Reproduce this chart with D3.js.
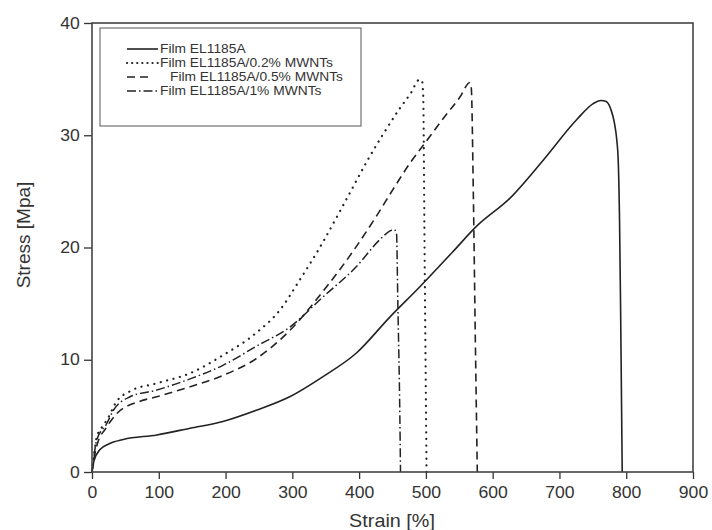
<!DOCTYPE html>
<html>
<head>
<meta charset="utf-8">
<script src="https://cdn.jsdelivr.net/npm/d3@7"></script>
<style>
  body { margin: 0; background: #fff; }
  svg { display: block; font-family: "Liberation Sans", Arial, sans-serif; }
</style>
</head>
<body>
<div id="chart"></div>
<script>
// stress-strain data, [strain %, stress MPa]
const film = [[0,0],[3,1.0],[12,2.0],[25,2.5],[47,2.9],[97,3.3],[147,3.9],[196,4.5],[246,5.5],[296,6.7],[346,8.5],[396,10.6],[446,13.8],[491,16.5],[540,19.6],[576,21.9],[626,24.4],[676,27.8],[726,31.4],[750,32.8],[762,33.1],[770,33.0],[777,32.3],[782,31.2],[786,29.5],[788,27.8],[790,22.4],[791.5,15],[793,6],[794,0]]
const mwnt02 = [[0,0],[3,1.5],[7,3.1],[15,4.0],[22,4.6],[37,6.3],[57,7.2],[97,7.9],[147,8.8],[196,10.4],[246,12.4],[281,14.4],[311,17.1],[346,20.5],[371,23.2],[391,25.4],[411,27.6],[436,30.1],[461,32.4],[479,33.9],[489,34.9],[494,34.9],[496,33.5],[498,20],[501,0]]
const mwnt05 = [[0,0],[3,1.2],[7,2.3],[22,4.0],[37,5.2],[72,6.3],[97,6.7],[147,7.6],[196,8.6],[246,10.1],[296,12.6],[346,16.1],[396,20.1],[426,22.8],[451,25.2],[476,27.5],[501,29.5],[526,31.5],[551,33.4],[566,34.7],[568,34.2],[571,25],[574,12],[577,0]]
const mwnt1 = [[0,0],[3,1.4],[7,2.85],[22,4.3],[32,5.5],[57,6.7],[97,7.3],[147,8.3],[196,9.5],[246,11.2],[296,12.9],[346,15.6],[396,18.3],[431,20.7],[447,21.5],[452,21.6],[456,21.3],[458,15],[461,5],[462,0]]

const seriesNames = ["Film EL1185A", "Film EL1185A/0.2% MWNTs", "Film EL1185A/0.5% MWNTs", "Film EL1185A/1% MWNTs"]
const xTicks = [0,100,200,300,400,500,600,700,800,900]
const yTicks = [0,10,20,30,40]

const width = 712, height = 530
const margin = {left: 92, right: 19, top: 23, bottom: 58}

const svg = d3.select("#chart").append("svg")
    .attr("width", width).attr("height", height)

const x = d3.scaleLinear().domain([0,900]).range([margin.left, width - margin.right])
const y = d3.scaleLinear().domain([0,40]).range([height - margin.bottom, margin.top])

const ink = "#222"
const styles = [
    {dash: null, w: 1.6, cap: "butt"},
    {dash: "0.1,6.5", w: 2.2, cap: "round"},
    {dash: "8,5", w: 1.6, cap: "butt"},
    {dash: "9,3,1.5,3", w: 1.5, cap: "butt"}
]

const line = d3.line()
    .x(d => x(d[0]))
    .y(d => y(d[1]))
    .curve(d3.curveMonotoneX)

const allSeries = [film, mwnt02, mwnt05, mwnt1]

svg.append("g").selectAll("path")
    .data(allSeries)
    .join("path")
    .attr("d", line)
    .attr("fill", "none")
    .attr("stroke", ink)
    .attr("stroke-width", (d,i) => styles[i].w)
    .attr("stroke-dasharray", (d,i) => styles[i].dash)
    .attr("stroke-linecap", (d,i) => styles[i].cap)

// axes
const xAxis = svg.append("g")
    .attr("transform", `translate(0,${y(0)})`)
    .call(d3.axisBottom(x).tickValues(xTicks).tickSize(7).tickPadding(8).tickSizeOuter(0))
const yAxis = svg.append("g")
    .attr("transform", `translate(${x(0)},0)`)
    .call(d3.axisLeft(y).tickValues(yTicks).tickSize(8).tickPadding(3).tickSizeOuter(0))

for (const ax of [xAxis, yAxis]) {
    ax.select(".domain").remove()
    ax.selectAll("line").attr("stroke", "#333").attr("stroke-width", 1.3)
    ax.selectAll("text")
        .attr("fill", "#333")
        .style("font-size", "16px")
        .style("font-family", "'Liberation Sans', Arial, sans-serif")
        .attr("transform", "scale(1.1,1)")
}

// frame
svg.append("rect")
    .attr("x", x(0)).attr("y", y(40))
    .attr("width", x(900) - x(0)).attr("height", y(0) - y(40))
    .attr("fill", "none").attr("stroke", "#444").attr("stroke-width", 1.6)

// axis titles
svg.append("text")
    .attr("transform", `translate(392,527) scale(1.1,1)`)
    .attr("text-anchor", "middle")
    .style("font-size", "18px")
    .attr("fill", "#333")
    .text("Strain [%]")

svg.append("text")
    .attr("transform", "translate(30,235) rotate(-90)")
    .attr("text-anchor", "middle")
    .style("font-size", "19px")
    .attr("fill", "#333")
    .text("Stress [Mpa]")

// legend
const legend = svg.append("g")
legend.append("rect")
    .attr("x", 100).attr("y", 28).attr("width", 261).attr("height", 98)
    .attr("fill", "#fff").attr("stroke", "#555").attr("stroke-width", 1)

const rows = legend.selectAll("g.row")
    .data(seriesNames)
    .join("g")
    .attr("class", "row")
    .attr("transform", (d,i) => `translate(0,${49 + i * 14})`)

rows.append("line")
    .attr("x1", 127)
    .attr("x2", (d,i) => i == 2 ? 148 : 158)
    .attr("stroke", ink)
    .attr("stroke-width", (d,i) => styles[i].w)
    .attr("stroke-dasharray", (d,i) => i == 1 ? "0.1,5" : styles[i].dash)
    .attr("stroke-linecap", (d,i) => styles[i].cap)

rows.append("text")
    .attr("transform", (d,i) => `translate(${i == 2 ? 170 : 160},4.3) scale(1.15,1)`)
    .style("font-size", "12px")
    .attr("fill", "#333")
    .text(d => d)
</script>
</body>
</html>
